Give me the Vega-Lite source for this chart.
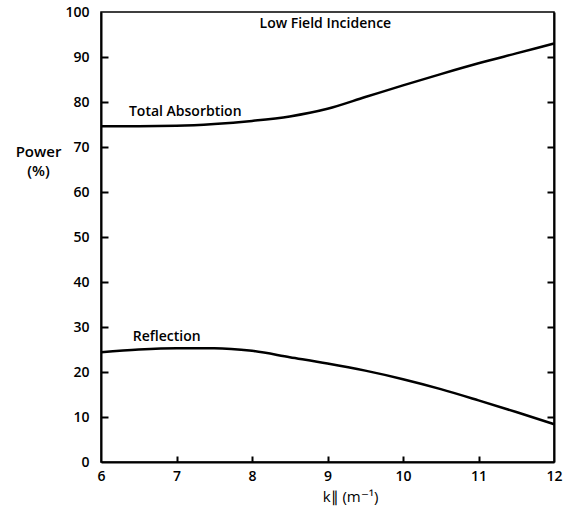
{
  "$schema": "https://vega.github.io/schema/vega-lite/v6.json",
  "width": 453,
  "height": 450,
  "autosize": {"type": "none"},
  "padding": {"left": 101, "top": 12, "right": 15, "bottom": 46},
  "background": "white",
  "config": {
    "view": {"stroke": "black", "strokeWidth": 1.5},
    "font": "Open Sans",
    "axis": {"grid": false, "domainColor": "black", "domainWidth": 2, "tickColor": "black", "tickWidth": 2, "labelColor": "black", "titleColor": "black"}
  },
  "datasets": {
    "curves": [
      {"series": "Total Absorbtion", "k": 6, "power": 74.6},
      {"series": "Total Absorbtion", "k": 6.5, "power": 74.6},
      {"series": "Total Absorbtion", "k": 7, "power": 74.7},
      {"series": "Total Absorbtion", "k": 7.5, "power": 75.1},
      {"series": "Total Absorbtion", "k": 8, "power": 75.8},
      {"series": "Total Absorbtion", "k": 8.5, "power": 76.8},
      {"series": "Total Absorbtion", "k": 9, "power": 78.5},
      {"series": "Total Absorbtion", "k": 9.5, "power": 81.1},
      {"series": "Total Absorbtion", "k": 10, "power": 83.7},
      {"series": "Total Absorbtion", "k": 10.5, "power": 86.2},
      {"series": "Total Absorbtion", "k": 11, "power": 88.6},
      {"series": "Total Absorbtion", "k": 11.5, "power": 90.8},
      {"series": "Total Absorbtion", "k": 12, "power": 93.0},
      {"series": "Reflection", "k": 6, "power": 24.4},
      {"series": "Reflection", "k": 6.5, "power": 25.0},
      {"series": "Reflection", "k": 7, "power": 25.3},
      {"series": "Reflection", "k": 7.5, "power": 25.3},
      {"series": "Reflection", "k": 8, "power": 24.7},
      {"series": "Reflection", "k": 8.5, "power": 23.3},
      {"series": "Reflection", "k": 9, "power": 21.9},
      {"series": "Reflection", "k": 9.5, "power": 20.3},
      {"series": "Reflection", "k": 10, "power": 18.4},
      {"series": "Reflection", "k": 10.5, "power": 16.2},
      {"series": "Reflection", "k": 11, "power": 13.7},
      {"series": "Reflection", "k": 11.5, "power": 11.1},
      {"series": "Reflection", "k": 12, "power": 8.4}
    ],
    "labels": [
      {"text": "Total Absorbtion", "k": 6.37, "power": 77.8},
      {"text": "Reflection", "k": 6.42, "power": 27.8},
      {"text": "Low Field Incidence", "k": 8.1, "power": 97.3}
    ]
  },
  "layer": [
    {
      "data": {"name": "curves"},
      "mark": {"type": "line", "opacity": 0},
      "encoding": {
        "x": {
          "field": "k", "type": "quantitative",
          "scale": {"domain": [6, 12], "nice": false, "zero": false},
          "axis": {
            "values": [6, 7, 8, 9, 10, 11, 12],
            "format": "d",
            "ticks": false,
            "labelPadding": 7,
            "labelFontSize": 14,
            "labelFontWeight": 600,
            "labelFlush": false,
            "title": "k∥ (m⁻¹)",
            "titleFontSize": 15,
            "titleFontWeight": "normal",
            "titleX": 249,
            "titlePadding": 6
          }
        },
        "y": {
          "field": "power", "type": "quantitative",
          "scale": {"domain": [0, 100], "nice": false},
          "axis": {
            "orient": "left",
            "values": [0, 10, 20, 30, 40, 50, 60, 70, 80, 90, 100],
            "format": "d",
            "ticks": false,
            "labelPadding": 12,
            "labelFontSize": 14,
            "labelFontWeight": 600,
            "labelFlush": false,
            "title": ["Power", "(%)"],
            "titleAngle": 0,
            "titleFontSize": 15,
            "titleFontWeight": 600,
            "titleAlign": "center",
            "titleBaseline": "top",
            "titleLineHeight": 19,
            "titleX": -63,
            "titleY": 132
          }
        },
        "detail": {"field": "series"}
      }
    },
    {
      "data": {"name": "curves"},
      "mark": {"type": "line", "interpolate": "monotone", "color": "black", "strokeWidth": 2.5},
      "encoding": {
        "x": {"field": "k", "type": "quantitative", "axis": null},
        "y": {
          "field": "power", "type": "quantitative",
          "axis": {"orient": "right", "values": [10, 20, 30, 40, 50, 60, 70, 80, 90], "tickSize": -7, "labels": false, "title": null}
        },
        "detail": {"field": "series"}
      }
    },
    {
      "data": {"name": "labels"},
      "mark": {"type": "text", "align": "left", "baseline": "middle", "fontSize": 14, "fontWeight": 600, "font": "Open Sans", "color": "black"},
      "encoding": {
        "x": {
          "field": "k", "type": "quantitative",
          "axis": {"orient": "bottom", "values": [7, 8, 9, 10, 11], "offset": -6, "tickSize": 6, "labels": false, "domain": false, "title": null}
        },
        "y": {
          "field": "power", "type": "quantitative",
          "axis": {"orient": "left", "values": [10, 20, 30, 40, 50, 60, 70, 80, 90], "offset": -7, "tickSize": 7, "labels": false, "domain": false, "title": null}
        },
        "text": {"field": "text"}
      }
    }
  ],
  "resolve": {"axis": {"x": "independent", "y": "independent"}}
}
